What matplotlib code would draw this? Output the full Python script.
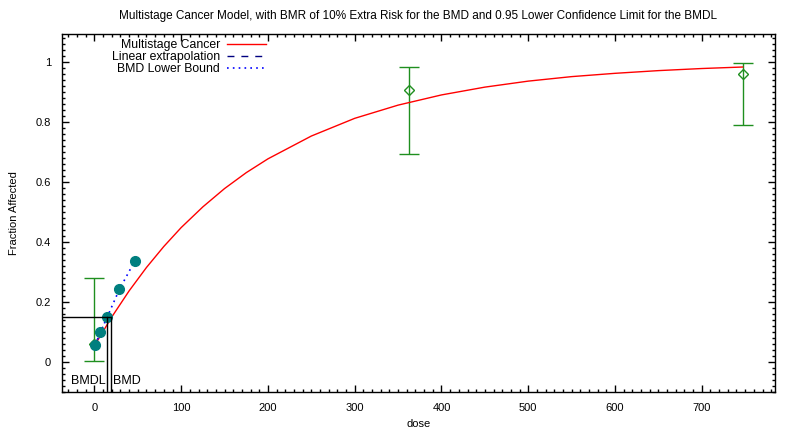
import matplotlib
matplotlib.use("Agg")
import matplotlib.pyplot as plt
from matplotlib.ticker import MultipleLocator

plt.rcParams['font.family'] = ['Liberation Sans', 'DejaVu Sans']

# observed data with confidence limits
dose_obs = [0, 363, 747]
frac_obs = [0.06, 0.907, 0.96]
ci_low = [0.003, 0.692, 0.789]
ci_high = [0.279, 0.982, 0.996]

# fitted multistage curve
curve_dose = [0, 20, 40, 60, 80, 100, 125, 150, 175, 200, 250, 300, 350,
              400, 450, 500, 550, 600, 650, 700, 747]
curve_frac = [0.054, 0.150, 0.237, 0.315, 0.385, 0.448, 0.517, 0.578, 0.631,
              0.677, 0.753, 0.812, 0.856, 0.890, 0.916, 0.936, 0.951, 0.962,
              0.971, 0.978, 0.983]

# lower bound points
lb_dose = [1.0, 7, 14.6, 28.8, 46.4]
lb_frac = [0.057, 0.10, 0.149, 0.242, 0.336]

bmr_level = 0.149
bmd = 19.6
bmdl = 14.6
background = 0.054

xlim = (-37.35, 784.35)
ylim = (-0.1, 1.093)

fig = plt.figure(figsize=(7.92, 4.30), dpi=100)
ax = fig.add_axes([0.0783, 0.0884, 0.9002, 0.8325])

ax.plot(curve_dose, curve_frac, color='red', lw=1, label='Multistage Cancer')
ax.plot([0, bmdl], [background, bmr_level], color='navy', lw=1,
        ls=(0, (5, 5)), label='Linear extrapolation')
ax.plot(lb_dose, lb_frac, color='blue', lw=1.2, ls=(0, (1, 2.5)),
        label='BMD Lower Bound')
ax.plot(lb_dose, lb_frac, ls='none', marker='o', ms=7, color='#007f7f',
        mec='#007f7f')

# error bars
yerr = [[f - l for f, l in zip(frac_obs, ci_low)],
        [h - f for f, h in zip(frac_obs, ci_high)]]
ax.errorbar(dose_obs, frac_obs, yerr=yerr, fmt='D', ms=5, mfc='none',
            mec='#1f8f1f', ecolor='#1f8f1f', elinewidth=1, capsize=7,
            capthick=1, zorder=1)

# BMD / BMDL markers
ax.plot([xlim[0], bmd], [bmr_level, bmr_level], color='black', lw=1)
ax.plot([bmdl, bmdl], [ylim[0], bmr_level], color='black', lw=1)
ax.plot([bmd, bmd], [ylim[0], bmr_level], color='black', lw=1)
ax.text(bmdl - 1.5, -0.063, 'BMDL', ha='right', va='center', fontsize=9)
ax.text(bmd + 1.5, -0.063, 'BMD', ha='left', va='center', fontsize=9)

ax.set_xlim(xlim)
ax.set_ylim(ylim)
ax.xaxis.set_major_locator(MultipleLocator(100))
ax.xaxis.set_minor_locator(MultipleLocator(10))
ax.yaxis.set_minor_locator(MultipleLocator(0.02))
ax.set_yticks([0, 0.2, 0.4, 0.6, 0.8, 1.0])
ax.set_yticklabels(['0', '0.2', '0.4', '0.6', '0.8', '1'])
ax.tick_params(which='both', direction='in', top=True, right=True,
               labelsize=8, width=1)
ax.tick_params(which='major', length=5, pad=8)
ax.tick_params(which='minor', length=2.5)
for s in ax.spines.values():
    s.set_linewidth(1)

ax.set_xlabel('dose', fontsize=8, labelpad=4)
ax.set_ylabel('Fraction Affected', fontsize=8, labelpad=12)
ax.set_title('Multistage Cancer Model, with BMR of 10% Extra Risk for the BMD '
             'and 0.95 Lower Confidence Limit for the BMDL', fontsize=8.5,
             pad=11)

ax.legend(loc='upper left', bbox_to_anchor=(0.07, 0.986), frameon=False,
          markerfirst=False, fontsize=8.8, handlelength=3.2, labelspacing=0.0,
          borderpad=0, borderaxespad=0, handletextpad=0.6)

fig.savefig('out.png', dpi=100)
